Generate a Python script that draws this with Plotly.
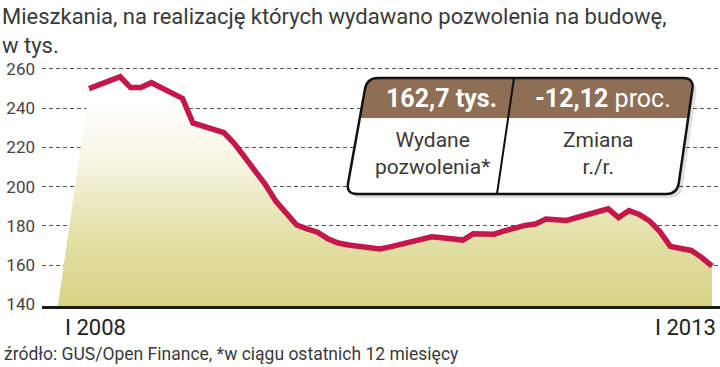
import plotly.graph_objects as go

# ---------------- data ----------------
months = list(range(0, 61))  # 0 = I 2008 ... 60 = I 2013
values = [250, 252, 254.5, 256, 250.5, 250.5, 253, 250.5, 247.5, 245,
          232.5, 231, 229, 227.5, 222, 215, 208, 201, 192.5, 186,
          180.5, 178.5, 176.8, 173.5, 171.3, 170.3, 169.5, 169, 168.3, 169.3,
          170.5, 171.8, 173.2, 174.5, 174, 173.3, 172.8, 176, 176, 175.8,
          177.5, 179, 180.3, 181, 183.5, 183.2, 182.8, 184.3, 185.8, 187.5,
          188.7, 184.3, 187.8, 185.8, 182.5, 177, 169.5, 168.5, 167.5, 164,
          159.5]
y_ticks = [140, 160, 180, 200, 220, 240, 260]
x_labels = ["I 2008", "I 2013"]
title_text = "Mieszkania, na realizację których wydawano pozwolenia na budowę,<br>w tys."
source_text = "źródło: GUS/Open Finance, *w ciągu ostatnich 12 miesięcy"
box_values = ["162,7 tys.", "<b>-12,12</b> proc."]
box_labels = ["Wydane<br>pozwolenia*", "Zmiana<br>r./r."]
fill_start_month = -3  # where the shaded area's slanted left edge meets the base

# ---------------- layout geometry ----------------
W, H = 720, 367
L, R, T, B = 42, 720, 66, 306
X_RANGE = [-4.53, 60.77]
Y_RANGE = [139.2, 261.5]
FONT = "Roboto"


def px(x):
    return (x - L) / (R - L)


def py(y):
    return (B - y) / (B - T)


def rounded_path(pts, radii):
    import math
    n = len(pts)
    segs = []
    for i in range(n):
        P = pts[i]
        A = pts[i - 1]
        Bn = pts[(i + 1) % n]
        r = radii[i]
        if r == 0:
            segs.append(("L" if segs else "M", P))
            continue
        da = (A[0] - P[0], A[1] - P[1])
        db = (Bn[0] - P[0], Bn[1] - P[1])
        la = math.hypot(*da)
        lb = math.hypot(*db)
        p1 = (P[0] + r * da[0] / la, P[1] + r * da[1] / la)
        p2 = (P[0] + r * db[0] / lb, P[1] + r * db[1] / lb)
        segs.append(("L" if segs else "M", p1))
        segs.append(("Q", P, p2))
    out = []
    for s in segs:
        if s[0] == "Q":
            out.append("Q %.5f,%.5f %.5f,%.5f" % (px(s[1][0]), py(s[1][1]), px(s[2][0]), py(s[2][1])))
        else:
            out.append("%s %.5f,%.5f" % (s[0], px(s[1][0]), py(s[1][1])))
    return " ".join(out) + " Z"


def left_x(y):
    return 367 - 0.18 * (y - 78)


def right_x(y):
    return 694 - 0.145 * (y - 78)


BT, BH, BB = 78, 118, 194
TL, TR = (left_x(BT), BT), (right_x(BT), BT)
HL, HR = (left_x(BH), BH), (right_x(BH), BH)
BL, BR = (left_x(BB), BB), (right_x(BB), BB)
RAD = 11

fig = go.Figure()

# shaded area
fig.add_trace(go.Scatter(
    x=[fill_start_month] + months,
    y=[Y_RANGE[0]] + values,
    mode="lines", line=dict(width=0),
    fill="tozeroy",
    fillgradient=dict(type="vertical",
                      colorscale=[[0, "#d7d386"], [0.35, "#e4e1aa"], [0.7, "#f6f5e4"], [1, "#ffffff"]],
                      start=140, stop=245),
    hoverinfo="skip", showlegend=False,
))

# main line
fig.add_trace(go.Scatter(
    x=months, y=values, mode="lines",
    line=dict(color="#c4174a", width=5.5, shape="linear"),
    showlegend=False,
))

# gridlines on overlay axis (no line at 140)
fig.add_trace(go.Scatter(x=[None], y=[None], yaxis="y2", showlegend=False))

shapes = []
shadow = [(x + 4, y + 4) for (x, y) in [TL, TR, BR, BL]]
shapes.append(dict(type="path", xref="paper", yref="paper", layer="above",
                   path=rounded_path(shadow, [RAD] * 4),
                   fillcolor="rgba(0,0,0,0.12)", line=dict(width=0)))
shapes.append(dict(type="path", xref="paper", yref="paper", layer="above",
                   path=rounded_path([TL, TR, BR, BL], [RAD] * 4),
                   fillcolor="#ffffff", line=dict(width=0)))
shapes.append(dict(type="path", xref="paper", yref="paper", layer="above",
                   path=rounded_path([TL, TR, HR, HL], [RAD, RAD, 0, 0]),
                   fillcolor="#8e6f55", line=dict(width=0)))
shapes.append(dict(type="path", xref="paper", yref="paper", layer="above",
                   path=rounded_path([TL, TR, BR, BL], [RAD] * 4),
                   fillcolor="rgba(0,0,0,0)", line=dict(color="#111111", width=2.5)))
shapes.append(dict(type="line", xref="paper", yref="paper", layer="above",
                   x0=px(514), y0=py(BT), x1=px(497), y1=py(BB),
                   line=dict(color="#111111", width=2)))

annotations = [
    dict(text=title_text, xref="paper", yref="paper", x=px(0), y=py(2),
         xanchor="left", yanchor="top", align="left", showarrow=False,
         font=dict(family=FONT, size=22, color="#3a3a3a")),
    dict(text=source_text, xref="paper", yref="paper", x=px(2), y=py(354),
         xanchor="left", yanchor="middle", showarrow=False,
         font=dict(family=FONT, size=17.5, color="#3a3a3a")),
    dict(text=x_labels[0], xref="x", yref="paper", x=months[0], y=py(327),
         xanchor="center", yanchor="middle", xshift=6, showarrow=False,
         font=dict(family=FONT, size=22, color="#222222")),
    dict(text=x_labels[1], xref="x", yref="paper", x=months[-1], y=py(327),
         xanchor="right", yanchor="middle", xshift=6, showarrow=False,
         font=dict(family=FONT, size=22, color="#222222")),
    dict(text="<b>" + box_values[0] + "</b>", xref="paper", yref="paper", x=px(441), y=py(99),
         xanchor="center", yanchor="middle", showarrow=False,
         font=dict(family=FONT, size=25, color="#ffffff")),
    dict(text=box_values[1], xref="paper", yref="paper", x=px(603), y=py(99),
         xanchor="center", yanchor="middle", showarrow=False,
         font=dict(family=FONT, size=25, color="#ffffff")),
    dict(text=box_labels[0], xref="paper", yref="paper", x=px(432), y=py(153),
         xanchor="center", yanchor="middle", showarrow=False,
         font=dict(family=FONT, size=21, color="#3a3a3a")),
    dict(text=box_labels[1], xref="paper", yref="paper", x=px(598), y=py(153),
         xanchor="center", yanchor="middle", showarrow=False,
         font=dict(family=FONT, size=21, color="#3a3a3a")),
]

fig.update_layout(
    width=W, height=H,
    margin=dict(l=L, r=W - R, t=T, b=H - B, pad=0),
    paper_bgcolor="white", plot_bgcolor="white",
    showlegend=False,
    xaxis=dict(range=X_RANGE, showgrid=False, zeroline=False, showticklabels=False,
               showline=True, linewidth=3, linecolor="#1c1c1c", ticks="", fixedrange=True),
    yaxis=dict(range=Y_RANGE, tickvals=y_ticks, showgrid=False, zeroline=False,
               showline=False, ticks="", ticklabelstandoff=6,
               tickfont=dict(family=FONT, size=17, color="#444444")),
    yaxis2=dict(range=Y_RANGE, overlaying="y", tickvals=y_ticks[1:], showgrid=True,
                gridcolor="#555555", gridwidth=1.2, griddash="4px,3px",
                showticklabels=False, zeroline=False, ticks=""),
    shapes=shapes,
    annotations=annotations,
)

fig.write_html("out.html", config={"displayModeBar": False},
               post_script="document.body.style.margin='0';document.body.style.overflow='hidden';")
